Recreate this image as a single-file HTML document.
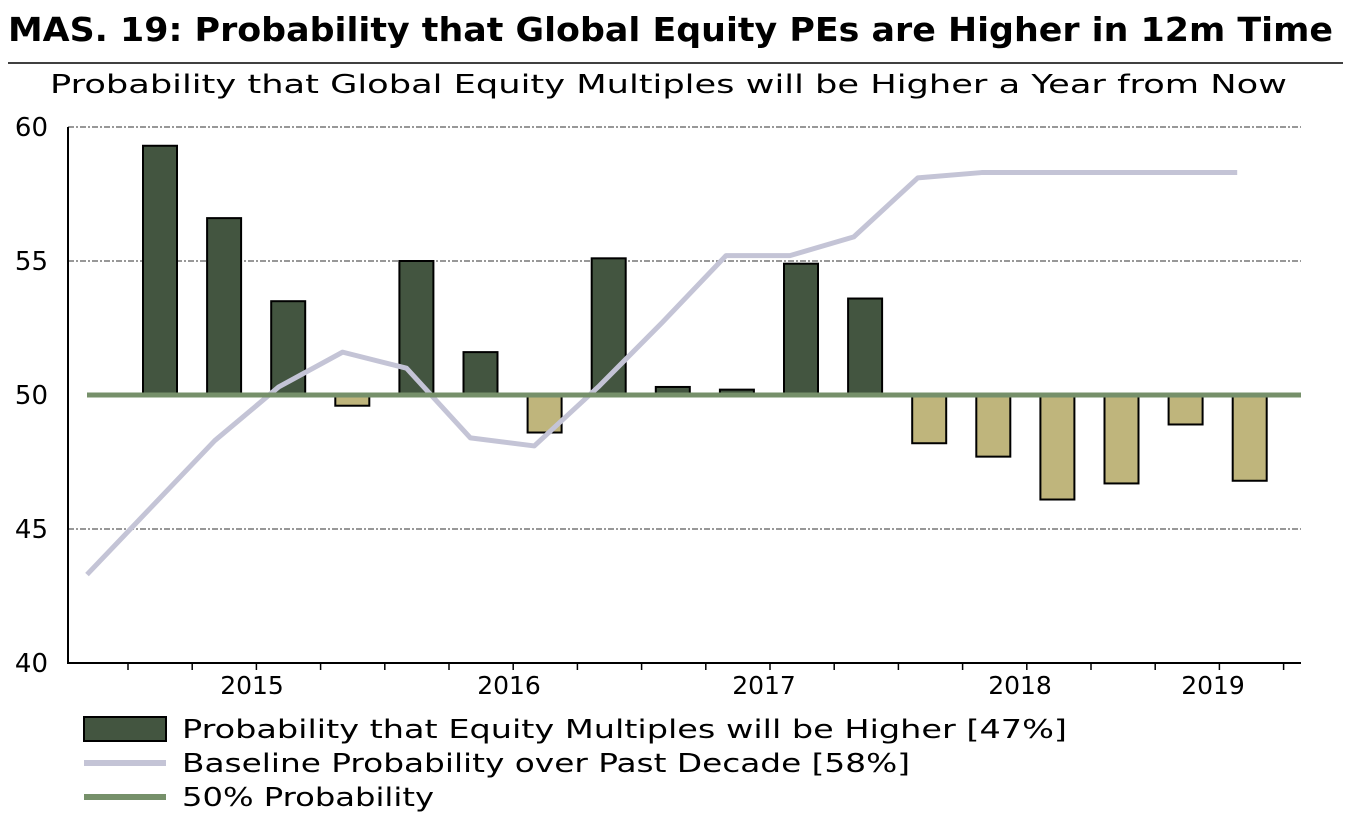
<!DOCTYPE html>
<html><head><meta charset="utf-8"><style>
body{margin:0;background:#fff;}
svg{display:block;font-family:"DejaVu Sans","Liberation Sans",sans-serif;}
</style></head><body>
<svg id="chart" width="1351" height="820">
<text x="8" y="41" font-size="33" font-weight="bold" fill="#000" textLength="1325" lengthAdjust="spacingAndGlyphs">MAS. 19: Probability that Global Equity PEs are Higher in 12m Time</text>
<line x1="8" y1="63" x2="1343" y2="63" stroke="#000" stroke-width="1.5"/>
<text x="50" y="93" font-size="26" fill="#000" textLength="1237" lengthAdjust="spacingAndGlyphs">Probability that Global Equity Multiples will be Higher a Year from Now</text>
<g id="grid"></g>
<g id="bars"></g>
<g id="lines"></g>
<g id="axes"></g>
<g>
<rect x="84" y="717" width="82" height="24" fill="#435540" stroke="#000" stroke-width="2"/>
<text x="182" y="738" font-size="26" textLength="885" lengthAdjust="spacingAndGlyphs">Probability that Equity Multiples will be Higher [47%]</text>
<line x1="84" y1="763" x2="166" y2="763" stroke="#c4c4d6" stroke-width="6"/>
<text x="182" y="772" font-size="26" textLength="728" lengthAdjust="spacingAndGlyphs">Baseline Probability over Past Decade [58%]</text>
<line x1="84" y1="797" x2="166" y2="797" stroke="#76906a" stroke-width="6"/>
<text x="182" y="806" font-size="26" textLength="252" lengthAdjust="spacingAndGlyphs">50% Probability</text>
</g>
</svg>
<script>
const barValues = [59.3, 56.6, 53.5, 49.6, 55.0, 51.6, 48.6, 55.1, 50.3, 50.2, 54.9, 53.6, 48.2, 47.7, 46.1, 46.7, 48.9, 46.8];
const baselineValues = [43.3, 45.8, 48.3, 50.3, 51.6, 51.0, 48.4, 48.1, 50.3, 52.7, 55.2, 55.2, 55.9, 58.1, 58.3, 58.3, 58.3, 58.3, 58.3];
const yTicks = [40, 45, 50, 55, 60];
const yearLabels = ["2015", "2016", "2017", "2018", "2019"];
const yearPos = [252, 509, 764, 1020, 1213];
const NS = "http://www.w3.org/2000/svg";
const X0 = 68, X1 = 1301, YTOP = 127, YBOT = 663;
function y(v){ return YBOT - (v - 40) / 20 * (YBOT - YTOP); }
function xBar(i){ return 160 + i * 64.1; }
function xLine(i){ return 87 + i * 63.9; }
function mk(tag, attrs, parent){ const e = document.createElementNS(NS, tag); for (const k in attrs) e.setAttribute(k, attrs[k]); parent.appendChild(e); return e; }
const grid = document.getElementById('grid'), bars = document.getElementById('bars'), lines = document.getElementById('lines'), axes = document.getElementById('axes');
yTicks.forEach(t => {
  if (t !== 40 && t !== 50) {
    const g = mk('line', {x1: X0, x2: X1, y1: y(t), y2: y(t), stroke: '#777', 'stroke-width': 1.5, 'stroke-dasharray': '6 2 2 2'}, grid);
    
    
  }
  const l = mk('text', {x: 48, y: y(t) + 9, 'font-size': 26, 'text-anchor': 'end'}, axes);
  l.textContent = t;
  
  
});
barValues.forEach((v, i) => {
  const top = Math.min(y(v), y(50)), h = Math.abs(y(v) - y(50));
  const r = mk('rect', {x: xBar(i) - 17, y: top, width: 34, height: h, fill: v >= 50 ? '#435540' : '#bfb57c', stroke: '#000', 'stroke-width': 2}, bars);
  
  
});
const pts = baselineValues.map((v, i) => xLine(i) + ',' + y(v)).join(' ');
const pl = mk('polyline', {points: pts, fill: 'none', stroke: '#c4c4d6', 'stroke-width': 5, 'stroke-linejoin': 'round'}, lines);


const fl = mk('line', {x1: 87, x2: X1, y1: y(50), y2: y(50), stroke: '#76906a', 'stroke-width': 5}, lines);


const ax = mk('path', {d: `M${X0} ${YTOP}V${YBOT}H${X1}`, fill: 'none', stroke: '#000', 'stroke-width': 2}, axes);


for (let tx = 128; tx < X1; tx += 64.2) {
  const tk = mk('line', {x1: tx, x2: tx, y1: YBOT, y2: YBOT + 7, stroke: '#000', 'stroke-width': 1.5}, axes);
  
  
}
yearLabels.forEach((lab, i) => {
  const t = mk('text', {x: yearPos[i], y: 694, 'font-size': 25, 'text-anchor': 'middle'}, axes);
  t.textContent = lab;
  
  
});
</script>
</body></html>
